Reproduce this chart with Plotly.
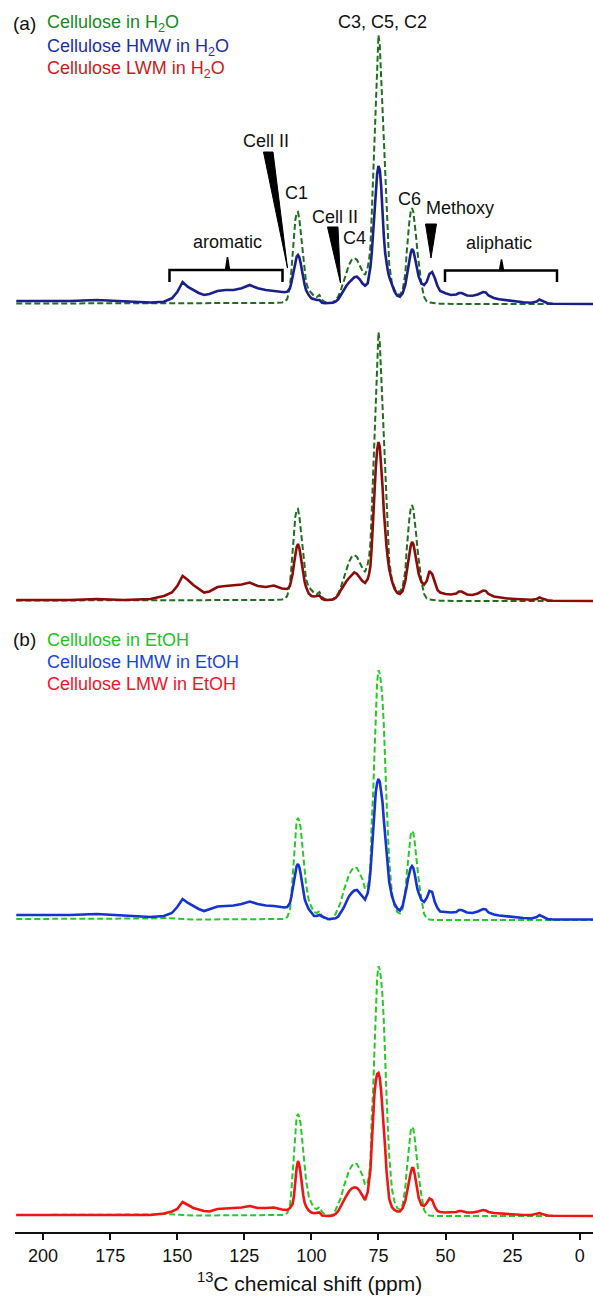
import plotly.graph_objects as go

# ---------------- data ----------------
ppm = [210, 200, 190, 180, 170, 160, 155, 152, 150, 148, 146, 144, 142, 140, 138, 135, 132, 129, 126, 123, 120, 117, 114, 111,
       110, 109, 108, 107.5, 107, 106.5, 106, 105.5, 105, 104.5, 104, 103.5, 103, 102.5, 102, 101, 100, 99, 98, 97, 96, 95, 94, 93, 92, 91, 90,
       89, 88, 87, 86, 85, 84, 83, 82, 81, 80, 79,
       78.5, 78, 77.5, 77, 76.5, 76, 75.5, 75, 74.5, 74, 73.5, 73, 72.5, 72, 71.5, 71,
       70, 69, 68, 67, 66, 65,
       64.5, 64, 63.5, 63, 62.5, 62, 61.5, 61, 60.5, 60,
       59, 58, 57, 56, 55, 54, 53, 52,
       50, 48, 46, 45, 44, 42, 40, 38, 36, 35, 34, 32, 30, 27, 24, 21, 18, 16, 15, 14, 12, 10, 5, 0, -5]

cellulose_h2o = [0.5, 0.5, 0.5, 0.5, 0.5, 1, 1, 1, 1, 1, 1, 1, 1, 1, 1, 1, 1, 1, 1, 1, 1, 1, 1, 1.5,
                 2, 5, 17, 32, 51, 70, 84, 91, 92, 85, 71, 57, 44, 31, 22, 14, 10.5, 8, 7, 9, 4, 2, 1, 1, 1.5, 4, 7.5,
                 14, 22, 31, 39, 44, 46, 44, 38, 33, 29, 37,
                 44, 58, 90, 125, 170, 212, 248, 269, 258, 228, 192, 155, 125, 100, 65, 40,
                 21, 14, 10, 9, 14, 30,
                 51, 68, 82, 92, 96, 92, 82, 68, 53, 42,
                 20, 7, 2.5, 1.5, 1, 0.5, 0.5, 0.3,
                 0, 0, 0, 0, 0, 0, 0, 0, 0, 0, 0, 0, 0, 0, 0, 0, 0, 0, 0, 0, 0, 0, 0, 0, 0]

hmw_h2o = [3, 3, 3, 4, 2.5, 1.5, 2.3, 5.7, 12, 22, 17, 14, 11, 9, 10, 13, 14, 14, 15.7, 19, 15.7, 14, 13.3, 12.3,
           11.7, 12.3, 15.7, 20.7, 27.3, 35.7, 42.3, 47.3, 49, 46.7, 40.7, 32.3, 24.7, 19, 14, 9, 5.7, 4.7, 4, 4, 1.3, 0.7, 0.7, 0.7, 1.3, 2.3, 4.7,
           9, 14, 18, 21.3, 24, 26.7, 27.3, 24.7, 20.7, 18.3, 20.7,
           27.3, 37, 51, 72, 92, 113, 130, 138, 134, 118, 88, 68, 51, 40, 33, 27,
           19, 12.3, 8.3, 7.3, 10.7, 19,
           27, 35.7, 44, 50.7, 55, 53.3, 47.3, 40.7, 34, 27.3,
           20.7, 19, 22.3, 30, 32, 26, 18, 13,
           10.7, 9, 9.5, 11, 11, 8.5, 8.3, 9.5, 12, 11.5, 8.5, 6, 4.7, 3.5, 2.5, 1.8, 1.3, 2.5, 4.5, 3.5, 0.8, 0.3, 0, 0, 0]

lmw_h2o = [1, 1, 1, 2, 1, 2, 5, 8.5, 15, 25, 21, 16, 12, 8.5, 9.5, 14, 15, 15.5, 16.5, 18.5, 15, 14, 15.5, 12.5,
           12, 12, 15, 20, 27, 37, 46, 54, 57, 53, 45, 36, 26, 19, 14, 7.5, 5, 4.5, 5, 5.5, 2, 1, 1, 1, 1.5, 3, 6,
           11, 16, 19.5, 23, 26, 28.7, 27, 23, 20, 18, 22,
           27, 35, 55, 84, 110, 133, 151, 159, 154, 138, 115, 90, 70, 54, 42, 32,
           20, 12, 8, 7, 10, 20,
           29, 38, 47, 55, 59, 57, 50, 42, 34, 27,
           19, 16.5, 20, 30, 27, 18, 11, 8.5,
           7, 6.5, 7.5, 9.5, 9.5, 6.5, 6, 7.5, 10.5, 10, 7, 4.5, 3.5, 2.5, 2, 1.5, 1.2, 2, 3.5, 2.5, 0.7, 0.3, 0, 0, 0]

cellulose_etoh = [1, 1, 1, 1, 1, 1.5, 2, 1.5, 1, 1, 0.5, 0.5, 0.5, 0.5, 0.5, 0.5, 0.5, 0.5, 0.5, 0.5, 0.5, 0.5, 0.5, 0.8,
                  1, 3, 10, 24, 45, 68, 87, 99, 102, 99, 92, 80, 66, 50, 36, 20, 13, 8, 7, 9, 4, 1.5, 0.5, 0.5, 2, 6, 12,
                  18, 29, 38, 45, 50, 53, 52, 47, 41, 31, 34,
                  40, 55, 100, 125, 165, 205, 238, 250, 246, 236, 220, 195, 145, 120, 88, 60,
                  27, 14, 8, 6.5, 11, 28,
                  45, 61, 75, 85, 89, 87, 78, 65, 52, 40,
                  21, 6, 1.5, 0.5, 0.3, 0, 0, 0,
                  0, 0, 0, 0, 0, 0, 0, 0, 0, 0, 0, 0, 0, 0, 0, 0, 0, 0, 0, 0, 0, 0, 0, 0, 0]

hmw_etoh = [5, 5, 5, 6, 4.5, 3, 4, 7, 13, 21, 17, 14, 11, 9, 10.5, 13.5, 14, 14.5, 16, 18.5, 16, 14.5, 14, 13,
            12.5, 13, 17, 23, 31, 40, 48, 54, 56, 53, 46, 37, 28, 21, 17, 11, 7.5, 4, 4, 5, 3.5, 2, 1.3, 1, 1, 1.7, 3.5,
            7.5, 12, 18, 23.5, 27, 29.5, 30, 27, 23.5, 20.5, 27,
            35, 48, 70, 92, 112, 128, 137, 141, 138, 130, 118, 100, 84, 64, 50, 38,
            24, 16, 11.5, 9.5, 14, 25,
            33, 41, 48, 52, 54, 52, 46, 37, 31, 27,
            20, 18, 22, 29, 28, 18, 12, 8.5,
            8, 7.5, 8, 10, 10, 7.5, 7, 8.5, 11, 10.5, 7.5, 5.5, 4.5, 3.5, 2.5, 2, 1.5, 3, 5, 3.5, 1, 0.5, 0.5, 0.5, 0.5]

lmw_etoh = [1, 1, 1, 1.5, 1, 1, 2.5, 4.5, 7, 14, 11, 8, 6.5, 5, 4.5, 7, 7.5, 8, 8.5, 10, 8, 8, 8.5, 6.5,
            6, 6, 8, 10, 12, 20, 35, 48, 55, 51, 42, 30, 20, 13, 9.5, 5.5, 3.5, 2.8, 3, 3.5, 0.5, 0, 0, 0, 0.5, 2, 5,
            10, 15.5, 20, 24.5, 27.5, 28.7, 28, 25, 20, 16, 24,
            35, 46, 72, 100, 122, 135, 142, 143, 138, 125, 108, 92, 68, 45, 28, 17,
            9, 6, 4.5, 4.5, 8, 15,
            22, 30, 37, 43, 48, 48, 42, 35, 26, 18,
            11, 10, 13, 17.5, 16, 9, 5, 4,
            3.5, 3.5, 4, 5, 5, 3.5, 3.5, 4.5, 6, 5.5, 4, 3, 2.5, 2, 1.5, 1, 1, 2, 3, 2, 0.5, 0.3, 0, 0, 0]

x_ticks = [200, 175, 150, 125, 100, 75, 50, 25, 0]

for arr in (cellulose_h2o, hmw_h2o, lmw_h2o, cellulose_etoh, hmw_etoh, lmw_etoh):
    assert len(arr) == len(ppm), len(arr)

# ---------------- layout geometry ----------------
W, H = 593, 1297
ML, MR, MT, MB = 15, 0, 0, 65
PW, PH = W - ML - MR, H - MT - MB
baselines = [304, 601, 920, 1216]   # pixel row of zero intensity for each stacked spectrum

def px(x):
    return (x - ML) / PW

def py(y):
    return 1 - (y - MT) / PH

FONT = "Liberation Sans, Arial, sans-serif"

fig = go.Figure()

panels = [
    (cellulose_h2o, "#1f6f1f", hmw_h2o, "#1a1f8c", "y"),
    (cellulose_h2o, "#1f6f1f", lmw_h2o, "#8c0c0c", "y2"),
    (cellulose_etoh, "#27c927", hmw_etoh, "#1732d2", "y3"),
    (cellulose_etoh, "#27c927", lmw_etoh, "#f01414", "y4"),
]
for ref, refc, smp, smpc, yax in panels:
    fig.add_trace(go.Scatter(x=ppm, y=ref, mode="lines", yaxis=yax,
                             line=dict(color=refc, width=2, dash="6px,3px"),
                             showlegend=False, hoverinfo="skip"))
    fig.add_trace(go.Scatter(x=ppm, y=smp, mode="lines", yaxis=yax,
                             line=dict(color=smpc, width=2.6),
                             showlegend=False, hoverinfo="skip"))

yaxes = {}
for i, b in enumerate(baselines):
    key = "yaxis" if i == 0 else f"yaxis{i+1}"
    cfg = dict(range=[b - PH, b], visible=False, fixedrange=True, domain=[0, 1])
    if i > 0:
        cfg["overlaying"] = "y"
    yaxes[key] = cfg

fig.update_layout(
    width=W, height=H,
    margin=dict(l=ML, r=MR, t=MT, b=MB, pad=0),
    paper_bgcolor="white", plot_bgcolor="white",
    font=dict(family=FONT, color="#111"),
    xaxis=dict(range=[210.47, -4.96], tickvals=x_ticks, ticktext=[str(t) for t in x_ticks],
               ticks="outside", ticklen=6, tickwidth=2, tickcolor="#111",
               showline=True, linewidth=2, linecolor="#111", showgrid=False, zeroline=False,
               tickfont=dict(size=18, color="#111", family=FONT)),
    **yaxes,
)

def text(s, x, y, size=18, color="#111", anchor="center"):
    fig.add_annotation(text=s, xref="paper", yref="paper", x=px(x), y=py(y),
                       xanchor=anchor, yanchor="middle", showarrow=False,
                       font=dict(size=size, color=color, family=FONT))

# legends
text("(a)", 11, 24, size=19, anchor="left")
text("Cellulose in H<sub>2</sub>O", 45, 24, color="#178a22", anchor="left")
text("Cellulose HMW in H<sub>2</sub>O", 45, 47, color="#1e2fa6", anchor="left")
text("Cellulose LWM in H<sub>2</sub>O", 45, 70, color="#c81c1c", anchor="left")
text("(b)", 11, 640, size=19, anchor="left")
text("Cellulose in EtOH", 45, 640, color="#1fc21f", anchor="left")
text("Cellulose HMW in EtOH", 45, 662, color="#1c45dc", anchor="left")
text("Cellulose LMW in EtOH", 45, 684, color="#f0142a", anchor="left")

# peak labels
text("C3, C5, C2", 382, 22)
text("Cell II", 266, 141)
text("C1", 296, 193)
text("Cell II", 335, 217)
text("C4", 354, 238)
text("C6", 409, 199)
text("Methoxy", 460, 208)
text("aromatic", 227, 242)
text("aliphatic", 499, 243)

# axis title
text("<sup>13</sup>C chemical shift (ppm)", 309, 1282, size=21)

def path(points, closed=False):
    s = "M " + " L ".join(f"{px(x):.5f},{py(y):.5f}" for x, y in points)
    return s + (" Z" if closed else "")

# wedges
for pts in ([(263.5, 152), (273, 152), (287.5, 268)],
            [(327.5, 227), (338, 227), (340.5, 283)],
            [(425.5, 224), (436.5, 224), (431, 258)]):
    fig.add_shape(type="path", xref="paper", yref="paper", path=path(pts, True),
                  fillcolor="black", line=dict(color="black", width=1))

# brackets
for x0, x1, xc, yh, yend, ytop in ((169.5, 282.5, 227.5, 270, 282, 257),
                                    (445, 557, 501.5, 270.5, 282, 259.5)):
    fig.add_shape(type="path", xref="paper", yref="paper",
                  path=path([(x0, yend), (x0, yh), (x1, yh), (x1, yend)]),
                  line=dict(color="black", width=2.5))
    fig.add_shape(type="path", xref="paper", yref="paper",
                  path=path([(xc - 2, yh), (xc, ytop), (xc + 2, yh)], True),
                  fillcolor="black", line=dict(color="black", width=1.5))

fig.write_html("out.html")
